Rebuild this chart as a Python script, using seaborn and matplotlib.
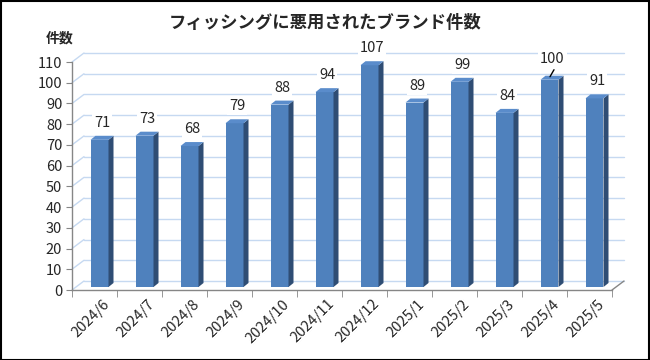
import numpy as np
import matplotlib
matplotlib.use("Agg")
import matplotlib.pyplot as plt
import matplotlib.transforms as mtrans
from matplotlib.patches import Polygon, Rectangle
from matplotlib.lines import Line2D
import seaborn as sns

months = ["2024/6", "2024/7", "2024/8", "2024/9", "2024/10", "2024/11",
          "2024/12", "2025/1", "2025/2", "2025/3", "2025/4", "2025/5"]
counts = [71, 73, 68, 79, 88, 94, 107, 89, 99, 84, 100, 91]
yticks = list(range(0, 111, 10))

sns.set_style("white")
plt.rcParams["font.family"] = ["Noto Sans CJK JP", "DejaVu Sans"]

FRONT = "#4f81bd"
SIDE = "#2f4d74"
TOP = "#5a8ccb"
GRID = "#c6d9f1"
AXIS = "#868686"

DPI = 100
fig = plt.figure(figsize=(6.5, 3.6), dpi=DPI)
W, H = 650, 360
ax = fig.add_axes([72 / W, (H - 290) / H, (612 - 72) / W, (290 - 62) / H])
ax.set_zorder(2)
ax.patch.set_alpha(0)

sns.barplot(x=months, y=counts, color=FRONT, width=0.4, saturation=1,
            ax=ax, zorder=3)
ax.set_ylim(0, 110)
ax.set_xlim(-0.5, 11.5)
ax.set_yticks(yticks)
ax.set_ylabel("")
ax.set_xlabel("")
for s in ["top", "right"]:
    ax.spines[s].set_visible(False)
for s in ["left", "bottom"]:
    ax.spines[s].set_color(AXIS)
    ax.spines[s].set_linewidth(1.0)
ax.tick_params(axis="y", length=4, color=AXIS, labelsize=10.5, pad=3, direction="out", left=True)
ax.tick_params(axis="x", which="major", length=0, labelsize=10.5, pad=5)
ax.set_xticks(np.arange(-0.5, 12, 1), minor=True)
ax.tick_params(axis="x", which="minor", length=5, color=AXIS, direction="out", bottom=True)
for lab in ax.get_xticklabels():
    lab.set_rotation(45)
    lab.set_ha("right")
    lab.set_rotation_mode("anchor")
    lab.set_transform(lab.get_transform() + mtrans.ScaledTranslation(8 / DPI, 0, fig.dpi_scale_trans))

fig.canvas.draw()
to_px = ax.transData.transform

# back wall gridlines and left wall / floor
BX, BY = 12, 9
ident = mtrans.IdentityTransform()
for v in yticks:
    x0, y0 = to_px((-0.5, v))
    x1, y1 = to_px((11.5, v))
    fig.add_artist(Line2D([x0 + BX, x1 + BX], [y0 + BY, y1 + BY], transform=ident,
                          color=GRID, lw=1.0, zorder=1))
    fig.add_artist(Line2D([x0, x0 + BX], [y0, y0 + BY], transform=ident,
                          color=GRID, lw=1.0, zorder=1))
fx, fy = to_px((11.5, 0))
fig.add_artist(Line2D([fx, fx + BX], [fy, fy + BY], transform=ident, color=AXIS, lw=1.0, zorder=1))

# 3D bars
DX, DY = 5, 3      # bar position in depth
SX, SY = 5, 4      # bar thickness
for p, v in zip(ax.patches, counts):
    p.set_transform(ax.transData + mtrans.ScaledTranslation(DX / DPI, DY / DPI, fig.dpi_scale_trans))
    p.set_edgecolor("none")
    (l, b) = to_px((p.get_x(), 0))
    (r, t) = to_px((p.get_x() + p.get_width(), v))
    l, r, b, t = l + DX, r + DX, b + DY, t + DY
    side = Polygon([[r, b], [r + SX, b + SY], [r + SX, t + SY], [r, t]], closed=True,
                   transform=ident, facecolor=SIDE, edgecolor="none", zorder=4)
    top = Polygon([[l, t], [l + SX, t + SY], [r + SX, t + SY], [r, t]], closed=True,
                  transform=ident, facecolor=TOP, edgecolor="none", zorder=4)
    fig.add_artist(side)
    fig.add_artist(top)
    cx = (l + r) / 2 + SX / 2
    ly = t + SY + 6
    if v == 100:
        fig.add_artist(Line2D([cx - 2, cx + 2], [t + SY - 1, t + SY + 6], transform=ident,
                              color="black", lw=1.0, zorder=5))
        ly = t + SY + 10
    fig.text(cx / W, ly / H, str(v), ha="center", va="bottom", fontsize=10.5,
             bbox=dict(boxstyle="square,pad=0.15", facecolor="white", edgecolor="none"),
             zorder=6)

fig.text(325 / W, 1 - 23 / H, "フィッシングに悪用されたブランド件数", ha="center", va="center",
         fontsize=12.5, fontweight="bold")
fig.text(60 / W, 1 - 39 / H, "件数", ha="center", va="center", fontsize=10, fontweight="bold")

fig.add_artist(Rectangle((0.5 / W, 0.5 / H), 1 - 1.5 / W, 1 - 1.5 / H, transform=fig.transFigure,
                         fill=False, edgecolor="black", lw=1.5, zorder=10))

fig.savefig("out.png", dpi=DPI)
